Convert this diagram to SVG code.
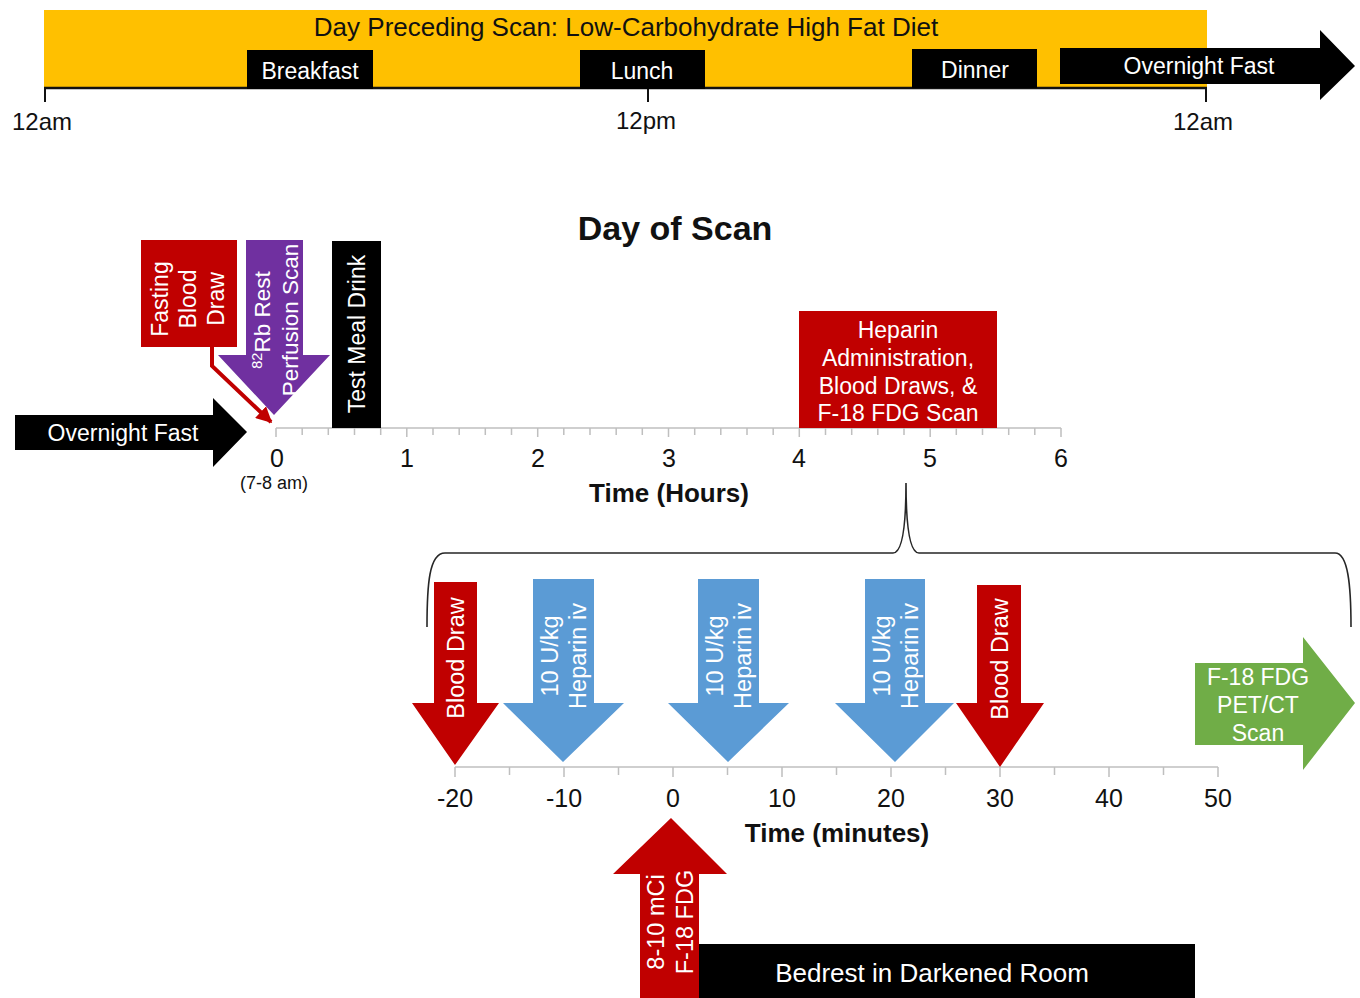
<svg xmlns="http://www.w3.org/2000/svg" width="1360" height="998" viewBox="0 0 1360 998">
<defs>
<style>
text{font-family:"Liberation Sans",Arial,sans-serif;}
.w{fill:#fff;}
.k{fill:#111;}
.c{text-anchor:middle;}
.b{font-weight:bold;}
.red{fill:#C00000;}
.pur{fill:#7030A0;}
.blu{fill:#5B9BD5;}
.grn{fill:#70AD47;}
.blk{fill:#000;}
.ax{stroke:#BFBFBF;stroke-width:1.5;fill:none;}
</style>
<marker id="ah" viewBox="0 0 10 10" refX="9" refY="5" markerWidth="4" markerHeight="4" orient="auto" markerUnits="strokeWidth">
<path d="M0,0 L10,5 L0,10 z" fill="#C00000"/>
</marker>
</defs>
<rect width="1360" height="998" fill="#fff"/>

<!-- Top timeline -->
<g id="top-bar">
<rect x="44" y="10" width="1163" height="78" fill="#FFC000"/>
<text x="626" y="36" class="c k" font-size="26">Day Preceding Scan: Low-Carbohydrate High Fat Diet</text>
<line x1="44" y1="88" x2="1207" y2="88" stroke="#111" stroke-width="2.5"/>
<path d="M45 87 V102 M648 87 V102 M1206 87 V102" stroke="#111" stroke-width="2"/>
<text x="42" y="130" class="c k" font-size="24">12am</text>
<text x="646" y="129" class="c k" font-size="24">12pm</text>
<text x="1203" y="130" class="c k" font-size="24">12am</text>
</g>
<g id="breakfast"><rect x="247" y="50" width="126" height="39" class="blk"/><text x="310" y="79" class="c w" font-size="23">Breakfast</text></g>
<g id="lunch"><rect x="580" y="50" width="125" height="39" class="blk"/><text x="642" y="79" class="c w" font-size="23">Lunch</text></g>
<g id="dinner"><rect x="912" y="49" width="125" height="39" class="blk"/><text x="975" y="78" class="c w" font-size="23">Dinner</text></g>
<g id="overnight-top">
<polygon points="1060,48 1320,48 1320,30 1355,66 1320,100 1320,84 1060,84" class="blk"/>
<text x="1199" y="74" class="c w" font-size="23">Overnight Fast</text>
</g>

<text x="675" y="240" class="c k b" font-size="34">Day of Scan</text>

<!-- Hours axis -->
<g id="hours-axis">
<line x1="276" y1="428" x2="1061" y2="428" class="ax"/>
<path class="ax" d="M276 428V437 M302.2 428V435 M328.3 428V435 M354.5 428V435 M380.7 428V435 M406.8 428V437 M433 428V435 M459.2 428V435 M485.3 428V435 M511.5 428V435 M537.7 428V437 M563.8 428V435 M590 428V435 M616.2 428V435 M642.3 428V435 M668.5 428V437 M694.7 428V435 M720.8 428V435 M747 428V435 M773.2 428V435 M799.3 428V437 M825.5 428V435 M851.7 428V435 M877.8 428V435 M904 428V435 M930.2 428V437 M956.3 428V435 M982.5 428V435 M1008.7 428V435 M1034.8 428V435 M1061 428V437"/>
<g class="k c" font-size="25">
<text x="277" y="467">0</text><text x="407" y="467">1</text><text x="538" y="467">2</text><text x="669" y="467">3</text><text x="799" y="467">4</text><text x="930" y="467">5</text><text x="1061" y="467">6</text>
</g>
<text x="274" y="489" class="c k" font-size="18">(7-8 am)</text>
<text x="669" y="502" class="c k b" font-size="26">Time (Hours)</text>
</g>

<g id="overnight-left">
<polygon points="15,415 213,415 213,398 247,432 213,467 213,450 15,450" class="blk"/>
<text x="123" y="441" class="c w" font-size="23">Overnight Fast</text>
</g>

<g id="fasting-blood-draw">
<rect x="141" y="240" width="96" height="107" class="red"/>
<g transform="translate(189,299) rotate(-90)" class="w c" font-size="23">
<text x="0" y="-21">Fasting</text>
<text x="0" y="7">Blood</text>
<text x="0" y="35">Draw</text>
</g>
</g>

<g id="rb-perfusion">
<polygon points="246,240 303,240 303,355 330,355 274,415 218,355 246,355" class="pur"/>
<g transform="translate(276,320) rotate(-90)" class="w c" font-size="22.5">
<text x="0" y="-6"><tspan font-size="14.5" dy="-8">82</tspan><tspan dy="8">Rb Rest</tspan></text>
<text x="0" y="22">Perfusion Scan</text>
</g>
</g>

<g id="test-meal">
<rect x="332" y="241" width="49" height="187" class="blk"/>
<text transform="translate(357,334) rotate(-90)" x="0" y="8" class="w c" font-size="23">Test Meal Drink</text>
</g>

<g id="heparin-box">
<rect x="799" y="311" width="198" height="117" class="red"/>
<g class="w c" font-size="23">
<text x="898" y="338">Heparin</text>
<text x="898" y="366">Administration,</text>
<text x="898" y="394">Blood Draws, &amp;</text>
<text x="898" y="421">F-18 FDG Scan</text>
</g>
</g>

<g id="connectors">
<path d="M212 347 V366 L271 422" fill="none" stroke="#C00000" stroke-width="4" marker-end="url(#ah)"/>
<path d="M427 627 C427 585 429 553 445 553 L893 553 C902 553 906 530 906 483 C906 530 910 553 919 553 L1335 553 C1348 553 1351 585 1351 627" fill="none" stroke="#262626" stroke-width="1.6"/>
</g>

<!-- Minutes axis -->
<g id="minutes-axis">
<line x1="455" y1="767" x2="1218" y2="767" class="ax"/>
<path class="ax" d="M455 767V777 M509.5 767V775 M564 767V777 M618.5 767V775 M673 767V777 M727.5 767V775 M782 767V777 M836.5 767V775 M891 767V777 M945.5 767V775 M1000 767V777 M1054.5 767V775 M1109 767V777 M1163.5 767V775 M1218 767V777"/>
<g class="k c" font-size="25">
<text x="455" y="807">-20</text><text x="564" y="807">-10</text><text x="673" y="807">0</text><text x="782" y="807">10</text><text x="891" y="807">20</text><text x="1000" y="807">30</text><text x="1109" y="807">40</text><text x="1218" y="807">50</text>
</g>
<text x="837" y="842" class="c k b" font-size="26">Time (minutes)</text>
</g>

<g id="blood-draw-1">
<polygon points="434,582 477,582 477,703 499,703 455,765 412,703 434,703" class="red"/>
<text transform="translate(456,658) rotate(-90)" x="0" y="8" class="w c" font-size="23.5">Blood Draw</text>
</g>
<g id="heparin-1">
<polygon points="533,579 594,579 594,703 624,703 563,762 503,703 533,703" class="blu"/>
<g transform="translate(564,656) rotate(-90)" class="w c" font-size="23.5"><text x="0" y="-6">10 U/kg</text><text x="0" y="22">Heparin iv</text></g>
</g>
<g id="heparin-2">
<polygon points="698,579 759,579 759,703 789,703 728,762 668,703 698,703" class="blu"/>
<g transform="translate(729,656) rotate(-90)" class="w c" font-size="23.5"><text x="0" y="-6">10 U/kg</text><text x="0" y="22">Heparin iv</text></g>
</g>
<g id="heparin-3">
<polygon points="865,579 925,579 925,703 954,703 895,762 835,703 865,703" class="blu"/>
<g transform="translate(896,656) rotate(-90)" class="w c" font-size="23.5"><text x="0" y="-6">10 U/kg</text><text x="0" y="22">Heparin iv</text></g>
</g>
<g id="blood-draw-2">
<polygon points="977,585 1021,585 1021,703 1044,703 1000,767 956,703 977,703" class="red"/>
<text transform="translate(1000,659) rotate(-90)" x="0" y="8" class="w c" font-size="23.5">Blood Draw</text>
</g>
<g id="pet-ct-scan">
<polygon points="1195,663 1303,663 1303,637 1355,703 1303,770 1303,745 1195,745" class="grn"/>
<g class="w c" font-size="23">
<text x="1258" y="685">F-18 FDG</text>
<text x="1258" y="713">PET/CT</text>
<text x="1258" y="741">Scan</text>
</g>
</g>
<g id="fdg-injection">
<polygon points="640,998 640,874 613,874 671,818 727,874 699,874 699,998" class="red"/>
<g transform="translate(671,922) rotate(-90)" class="w c" font-size="23.5"><text x="0" y="-7">8-10 mCi</text><text x="0" y="22">F-18 FDG</text></g>
</g>
<g id="bedrest">
<rect x="699" y="944" width="496" height="54" class="blk"/>
<text x="932" y="982" class="c w" font-size="26">Bedrest in Darkened Room</text>
</g>
</svg>
